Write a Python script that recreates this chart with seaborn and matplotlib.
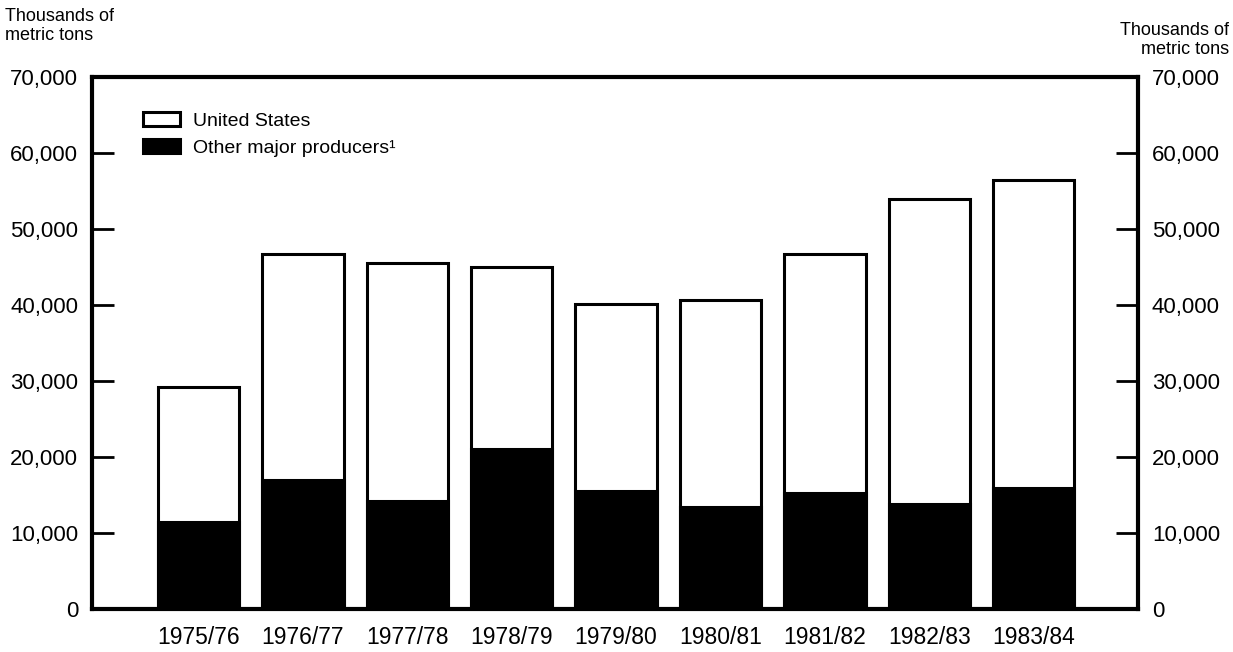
import pandas as pd
import matplotlib.pyplot as plt
import seaborn as sns

sns.set_style("white")
plt.rcParams["font.family"] = ["Liberation Sans", "DejaVu Sans"]
plt.rcParams["text.color"] = "black"
plt.rcParams["xtick.color"] = "black"
plt.rcParams["ytick.color"] = "black"
plt.rcParams["axes.labelcolor"] = "black"

# crop years and production, thousands of metric tons
years = ["1975/76", "1976/77", "1977/78", "1978/79", "1979/80",
         "1980/81", "1981/82", "1982/83", "1983/84"]
other_producers = [11500, 17000, 14200, 21000, 15500, 13400, 15200, 13800, 15900]
united_states = [17700, 29700, 31300, 24000, 24600, 27300, 31500, 40200, 40600]
y_ticks = [0, 10000, 20000, 30000, 40000, 50000, 60000, 70000]

df = pd.DataFrame({"year": years, "us": united_states, "other": other_producers})
df["total"] = df["us"] + df["other"]

fig = plt.figure(figsize=(12.33, 6.52), dpi=100)
ax = fig.add_axes([0.0746, 0.066, 0.8484, 0.816])

# stacked bars: full height in white, other producers in black on top
sns.barplot(data=df, x="year", y="total", color="white", edgecolor="black",
            linewidth=2.2, width=0.78, saturation=1, label="United States", ax=ax)
sns.barplot(data=df, x="year", y="other", color="black", edgecolor="black",
            linewidth=2.2, width=0.78, saturation=1,
            label="Other major producers\u00b9", ax=ax)

ax.set_xlim(-1.02, 9.0)
ax.set_ylim(0, 70000)
ax.set_yticks(y_ticks)
ax.set_yticklabels([f"{v:,}" for v in y_ticks])
ax.set_xlabel("")
ax.set_ylabel("")

ax.tick_params(axis="y", direction="in", length=16, width=2, labelsize=16,
               pad=10, left=True, right=True, labelleft=True, labelright=True,
               colors="black")
ax.tick_params(axis="x", length=0, labelsize=16.5, pad=12, colors="black")

for side in ["left", "right", "top", "bottom"]:
    ax.spines[side].set_visible(True)
    ax.spines[side].set_color("black")
    ax.spines[side].set_linewidth(3)

ax.legend(loc="upper left", bbox_to_anchor=(0.049, 0.934), frameon=False,
          fontsize=14, borderpad=0, borderaxespad=0, handlelength=1.9,
          handleheight=0.7, handletextpad=0.65, labelspacing=0.5)

fig.text(0.004, 0.988, "Thousands of\nmetric tons", ha="left", va="top",
         fontsize=13, linespacing=1.15, color="black")
fig.text(0.997, 0.966, "Thousands of\nmetric tons", ha="right", va="top",
         fontsize=13, linespacing=1.15, color="black")

plt.savefig("out.png", dpi=100)
